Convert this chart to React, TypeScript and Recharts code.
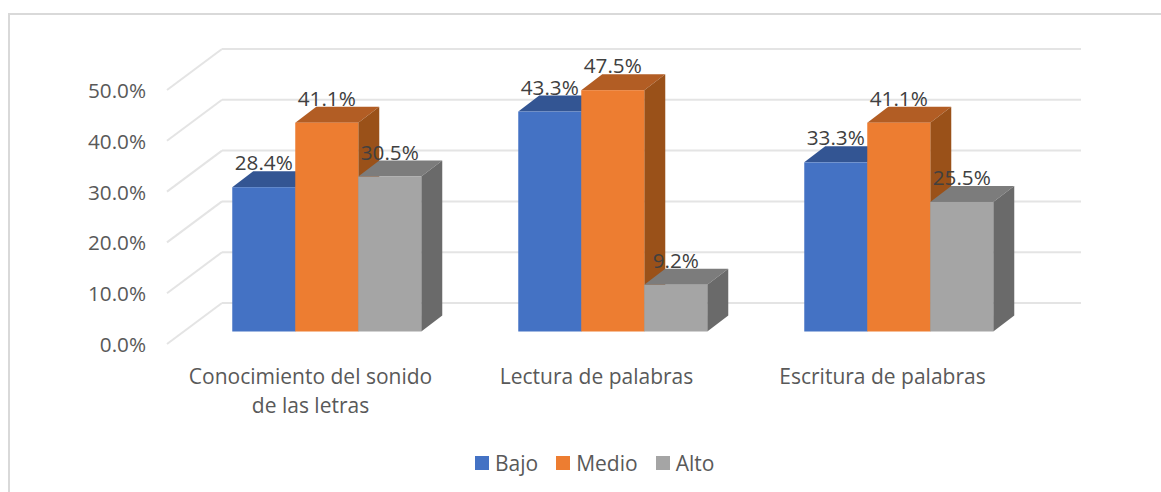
import React from 'react';
import { BarChart, Bar, XAxis, YAxis, CartesianGrid, Legend, LabelList } from 'recharts';

const categories = [['Conocimiento del sonido', 'de las letras'], ['Lectura de palabras'], ['Escritura de palabras']];
const bajo = [28.4, 43.3, 33.3];
const medio = [41.1, 47.5, 41.1];
const alto = [30.5, 9.2, 25.5];
const yTicks = [0, 10, 20, 30, 40, 50];

const data = categories.map((c, i) => ({
  name: c.join('|'),
  Bajo: bajo[i],
  Medio: medio[i],
  Alto: alto[i],
}));

const FONT = '"Open Sans", "Noto Sans", sans-serif';
const GRID = '#e4e4e4';

// fake 3D, same trick as the excel chart: a front face plus top and side
const DEPTH_X = 21;
const DEPTH_Y = 16;

function bar3d(front: string, top: string, side: string) {
  return (props: any) => {
    const { x, y, width, height } = props;
    const r = x + width;
    const b = y + height;
    return (
      <g>
        <polygon points={`${x},${y} ${r},${y} ${r + DEPTH_X},${y - DEPTH_Y} ${x + DEPTH_X},${y - DEPTH_Y}`} fill={top} />
        <polygon points={`${r},${y} ${r + DEPTH_X},${y - DEPTH_Y} ${r + DEPTH_X},${b - DEPTH_Y} ${r},${b}`} fill={side} />
        <rect x={x} y={y} width={width} height={height} fill={front} />
      </g>
    );
  };
}

// horizontal grid goes along the back wall, with a diagonal on the left floor side
function gridLine(props: any) {
  const { x1, x2, y1 } = props;
  return (
    <g stroke={GRID} strokeWidth={2} fill="none">
      <line x1={x1 - 17.5} y1={y1 + 12.5} x2={x1 + 37.5} y2={y1 - 28.5} />
      <line x1={x1 + 37.5} y1={y1 - 28.5} x2={x2 + 38.5} y2={y1 - 28.5} />
    </g>
  );
}

function YTick(props: any) {
  const { y, payload } = props;
  return (
    <text x={146} y={y + 12.5} textAnchor="end" dominantBaseline="central" fontSize={20.7} fontFamily={FONT} fill="#595959">
      {payload.value.toFixed(1)}%
    </text>
  );
}

function XTick(props: any) {
  const { x, payload } = props;
  const lines = String(payload.value).split('|');
  return (
    <text textAnchor="middle" fontSize={21} fontFamily={FONT} fill="#595959">
      {lines.map((l, i) => (
        <tspan key={l} x={x - 17} y={384 + i * 29}>{l}</tspan>
      ))}
    </text>
  );
}

function valueLabel(props: any) {
  const { x, y, width, value } = props;
  return (
    <text x={x + width / 2} y={y - 25} textAnchor="middle" dominantBaseline="central" fontSize={20.7} fontFamily={FONT} fill="#404040">
      {value.toFixed(1)}%
    </text>
  );
}

function LegendBox({ payload }: any) {
  return (
    <div style={{ display: 'flex', fontFamily: FONT, fontSize: 21, color: '#595959', lineHeight: '28px' }}>
      {(payload || []).map((p: any) => (
        <div key={p.value} style={{ display: 'flex', alignItems: 'center', marginRight: 18 }}>
          <div style={{ width: 14, height: 14, background: p.color, marginRight: 6 }} />
          {p.value}
        </div>
      ))}
    </div>
  );
}

export default function App() {
  return (
    <div style={{ position: 'absolute', left: 0, top: 0, width: 1161, height: 492, background: '#fff' }}>
      <div style={{ position: 'absolute', left: 8, top: 13, width: 1153, height: 479, borderTop: '2px solid #d9d9d9', borderLeft: '2px solid #d9d9d9', boxSizing: 'border-box' }} />
      <BarChart
        width={1161}
        height={492}
        data={data}
        barGap={0}
        barCategoryGap="16.7%"
        margin={{ top: 77.5, right: 118.5, bottom: 100.5, left: 84.5 }}
        style={{ position: 'absolute', left: 0, top: 0 }}
      >
        <CartesianGrid vertical={false} horizontal={gridLine} />
        <XAxis dataKey="name" height={60} axisLine={false} tickLine={false} tick={XTick} interval={0} />
        <YAxis width={100} domain={[0, 50]} ticks={yTicks} axisLine={false} tickLine={false} tick={YTick} />
        <Legend verticalAlign="middle" itemSorter={null as any} content={LegendBox} wrapperStyle={{ left: 475, top: 449, width: 300 }} />
        <Bar dataKey="Bajo" fill="#4472C4" shape={bar3d('#4472C4', '#335593', '#2f5597')} isAnimationActive={false}>
          <LabelList dataKey="Bajo" content={valueLabel} />
        </Bar>
        <Bar dataKey="Medio" fill="#ED7D31" shape={bar3d('#ED7D31', '#B25D24', '#9A5119')} isAnimationActive={false}>
          <LabelList dataKey="Medio" content={valueLabel} />
        </Bar>
        <Bar dataKey="Alto" fill="#A5A5A5" shape={bar3d('#A5A5A5', '#7C7C7C', '#6A6A6A')} isAnimationActive={false}>
          <LabelList dataKey="Alto" content={valueLabel} />
        </Bar>
      </BarChart>
    </div>
  );
}
